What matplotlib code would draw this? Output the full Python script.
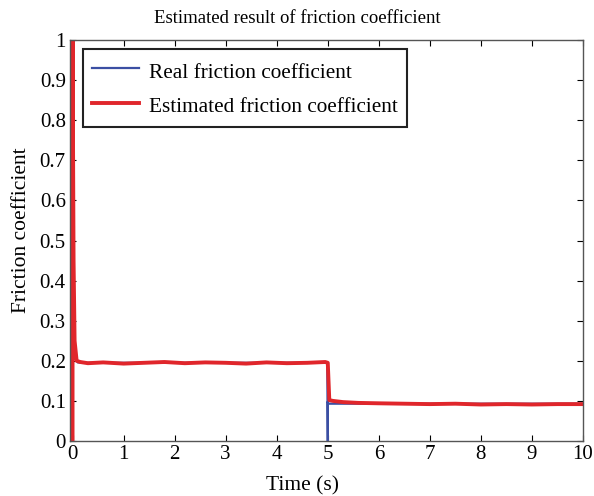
import matplotlib.pyplot as plt
import numpy as np

# real friction coefficient (step at t=5)
real_t = [0.0, 0.0, 0.02, 0.04, 0.06, 0.1, 0.2, 4.99, 5.0, 5.0, 5.01, 10.0]
real_mu = [0.0, 0.195, 0.225, 0.205, 0.21, 0.196, 0.195, 0.195, 0.0, 0.098, 0.093, 0.093]

# estimated coefficient
est_t = [0.0, 0.0, 0.02, 0.04, 0.08, 0.15, 0.3, 0.6, 1.0, 1.4, 1.8, 2.2, 2.6, 3.0,
         3.4, 3.8, 4.2, 4.6, 4.95, 5.0, 5.03, 5.1, 5.3, 5.6, 6.0, 6.5, 7.0, 7.5,
         8.0, 8.5, 9.0, 9.5, 10.0]
est_mu = [0.0, 1.0, 0.45, 0.25, 0.2, 0.197, 0.194, 0.196, 0.193, 0.195, 0.197, 0.194,
          0.196, 0.195, 0.193, 0.196, 0.194, 0.195, 0.197, 0.195, 0.102, 0.1, 0.097,
          0.095, 0.094, 0.093, 0.092, 0.093, 0.091, 0.092, 0.091, 0.092, 0.092]

xticks = list(range(0, 11))
yticks = [0, 0.1, 0.2, 0.3, 0.4, 0.5, 0.6, 0.7, 0.8, 0.9, 1]
ytick_labels = ['0', '0.1', '0.2', '0.3', '0.4', '0.5', '0.6', '0.7', '0.8', '0.9', '1']

plt.rcParams['font.family'] = ['Liberation Serif', 'DejaVu Serif']

fig = plt.figure(figsize=(5.94, 4.96), dpi=100)
ax = fig.add_axes([70 / 594, 1 - 441 / 496, 513 / 594, 401 / 496])

ax.plot(real_t, real_mu, color='#3b4fa3', lw=1.6, label='Real friction coefficient')
ax.plot(est_t, est_mu, color='#e0262b', lw=2.8, label='Estimated friction coefficient')

ax.set_xlim(-0.05, 10)
ax.set_ylim(0, 1)
ax.set_xticks(xticks)
ax.set_yticks(yticks)
ax.set_yticklabels(ytick_labels)
ax.tick_params(direction='in', top=True, right=True, labelsize=15, length=4, pad=3)
for s in ax.spines.values():
    s.set_color('#555555')
    s.set_linewidth(1.0)

# title and x label sit centred on the figure rather than the axes
ax.set_title('Estimated result of friction coefficient', fontsize=13.5, pad=12, x=0.4425)
ax.set_xlabel('Time (s)', fontsize=15.5, labelpad=9, x=0.454)
ax.set_ylabel('Friction coefficient', fontsize=15.5, labelpad=6, y=0.526)

leg = ax.legend(loc='upper left', bbox_to_anchor=(0.025, 0.977), borderaxespad=0,
                fontsize=15.3, fancybox=False, shadow=False, framealpha=1,
                edgecolor='#222222', handlelength=2.2, handletextpad=0.45,
                handleheight=1.4, borderpad=0.45, labelspacing=0.45)
leg.get_frame().set_linewidth(1.5)

fig.savefig('out.png', dpi=100)
